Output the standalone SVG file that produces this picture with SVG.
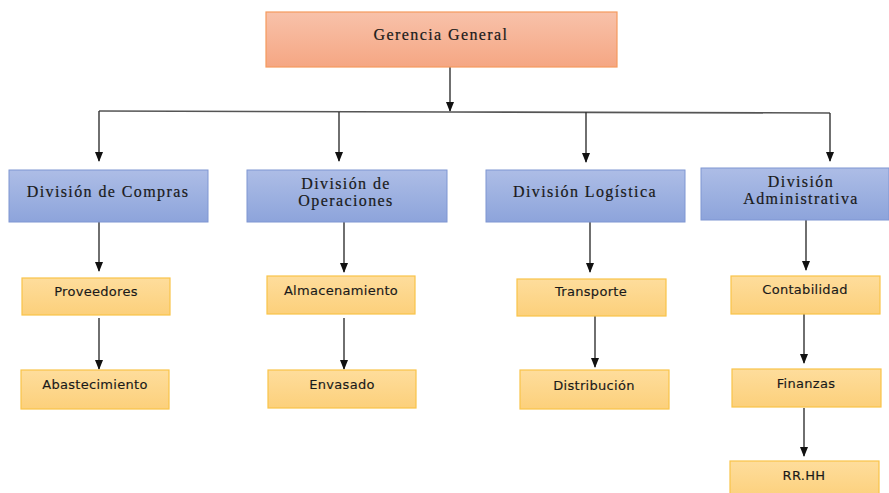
<svg xmlns="http://www.w3.org/2000/svg" width="889" height="493" viewBox="0 0 889 493">
  <style>
    .top { fill: url(#gTop); stroke: #F59A5E; stroke-width: 1.2; }
    .div { fill: url(#gDiv); stroke: #7F96D2; stroke-width: 1; }
    .sub { fill: url(#gSub); stroke: #F9C349; stroke-width: 1.2; }
    .serif { font-family: "Liberation Serif", "Times New Roman", serif; font-size: 16px; letter-spacing: 1.4px; fill: #1a1a1a; stroke: #1a1a1a; stroke-width: 0.2; text-anchor: middle; }
    .sans { font-family: "DejaVu Sans", Verdana, sans-serif; font-size: 13px; letter-spacing: 0.3px; fill: #1a1a1a; stroke: #1a1a1a; stroke-width: 0.15; text-anchor: middle; }
    .edge { stroke: #333; stroke-width: 1.4; fill: none; marker-end: url(#arrow); }
    .bus { stroke: #555; stroke-width: 1.6; fill: none; }
  </style>
  <defs>
    <linearGradient id="gTop" x1="0" y1="0" x2="0" y2="1">
      <stop offset="0" stop-color="#F8C2AA"/>
      <stop offset="1" stop-color="#F5A683"/>
    </linearGradient>
    <linearGradient id="gDiv" x1="0" y1="0" x2="0" y2="1">
      <stop offset="0" stop-color="#ADBDE6"/>
      <stop offset="1" stop-color="#8DA4DB"/>
    </linearGradient>
    <linearGradient id="gSub" x1="0" y1="0" x2="0" y2="1">
      <stop offset="0" stop-color="#FEDD9C"/>
      <stop offset="1" stop-color="#FCD07B"/>
    </linearGradient>
    <marker id="arrow" markerWidth="10" markerHeight="8" refX="9" refY="4" orient="auto" markerUnits="userSpaceOnUse">
      <path d="M0,0 L10,4 L0,8 Z" fill="#111"/>
    </marker>
  </defs>

  <g id="connectors">
    <line class="edge" x1="450" y1="67" x2="450" y2="111"/>
    <polyline class="bus" points="99,111 450,112 830,113"/>
    <line class="edge" x1="99" y1="111" x2="99" y2="161"/>
    <line class="edge" x1="339" y1="112" x2="339" y2="161"/>
    <line class="edge" x1="586" y1="112" x2="586" y2="162"/>
    <line class="edge" x1="830" y1="113" x2="830" y2="161"/>

    <line class="edge" x1="99" y1="222" x2="99" y2="271"/>
    <line class="edge" x1="344" y1="222" x2="344" y2="272"/>
    <line class="edge" x1="590" y1="222" x2="590" y2="272"/>
    <line class="edge" x1="806" y1="220" x2="806" y2="270"/>

    <line class="edge" x1="99" y1="318" x2="99" y2="369"/>
    <line class="edge" x1="344" y1="318" x2="344" y2="369"/>
    <line class="edge" x1="595" y1="316" x2="595" y2="367"/>
    <line class="edge" x1="804" y1="314" x2="804" y2="363"/>
    <line class="edge" x1="804" y1="408" x2="804" y2="456"/>
  </g>

  <g id="gerencia">
    <rect class="top" x="266" y="12" width="351" height="55"/>
    <text class="serif" x="441" y="40">Gerencia General</text>
  </g>

  <g id="compras">
    <rect class="div" x="9" y="170" width="199" height="52"/>
    <text class="serif" x="108" y="197">División de Compras</text>
  </g>
  <g id="operaciones">
    <rect class="div" x="247" y="170" width="200" height="52"/>
    <text class="serif" x="346" y="189">División de</text>
    <text class="serif" x="346" y="206">Operaciones</text>
  </g>
  <g id="logistica">
    <rect class="div" x="486" y="170" width="199" height="52"/>
    <text class="serif" x="585" y="197">División Logística</text>
  </g>
  <g id="administrativa">
    <rect class="div" x="701" y="168" width="188" height="52"/>
    <text class="serif" x="801" y="187">División</text>
    <text class="serif" x="801" y="204">Administrativa</text>
  </g>

  <g id="proveedores">
    <rect class="sub" x="22" y="278" width="148" height="37"/>
    <text class="sans" x="96" y="296">Proveedores</text>
  </g>
  <g id="abastecimiento">
    <rect class="sub" x="21" y="370" width="148" height="39"/>
    <text class="sans" x="95" y="389">Abastecimiento</text>
  </g>
  <g id="almacenamiento">
    <rect class="sub" x="267" y="276" width="148" height="38"/>
    <text class="sans" x="341" y="295">Almacenamiento</text>
  </g>
  <g id="envasado">
    <rect class="sub" x="268" y="370" width="148" height="38"/>
    <text class="sans" x="342" y="389">Envasado</text>
  </g>
  <g id="transporte">
    <rect class="sub" x="517" y="279" width="149" height="37"/>
    <text class="sans" x="591" y="296">Transporte</text>
  </g>
  <g id="distribucion">
    <rect class="sub" x="520" y="370" width="149" height="39"/>
    <text class="sans" x="594" y="390">Distribución</text>
  </g>
  <g id="contabilidad">
    <rect class="sub" x="731" y="276" width="149" height="38"/>
    <text class="sans" x="805" y="294">Contabilidad</text>
  </g>
  <g id="finanzas">
    <rect class="sub" x="732" y="369" width="149" height="38"/>
    <text class="sans" x="806" y="388">Finanzas</text>
  </g>
  <g id="rrhh">
    <rect class="sub" x="730" y="461" width="149" height="38"/>
    <text class="sans" x="804" y="480">RR.HH</text>
  </g>
</svg>
